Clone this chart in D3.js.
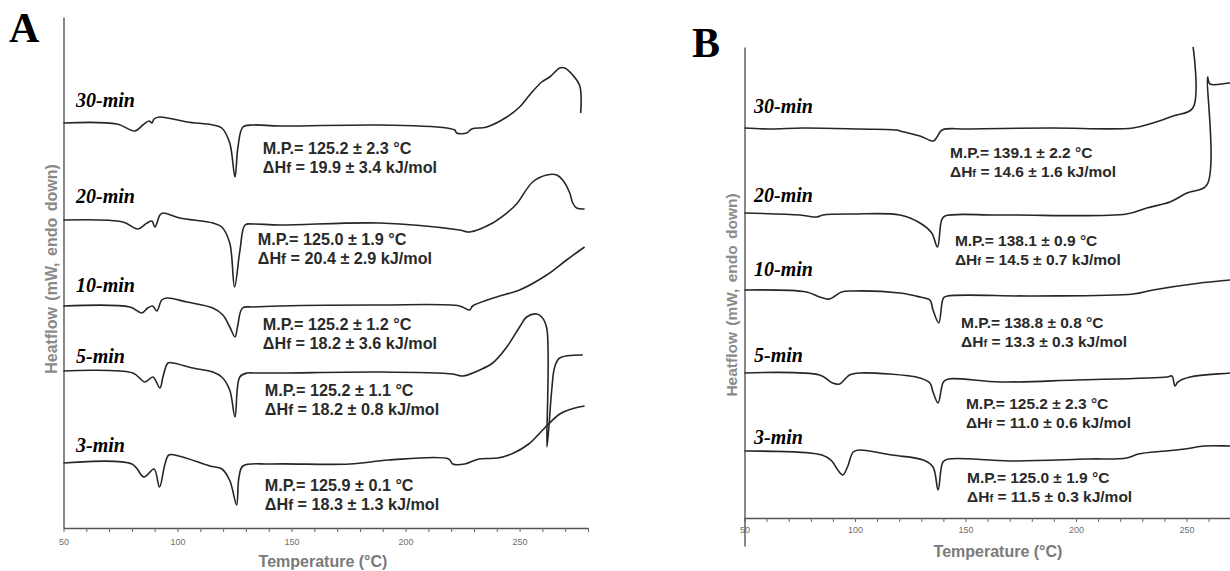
<!DOCTYPE html>
<html>
<head>
<meta charset="utf-8">
<script src="https://cdn.jsdelivr.net/npm/d3@7"></script>
<style>
  body { margin: 0; background: #fff; }
  svg { display: block; }
</style>
</head>
<body>
<svg id="chart" width="1230" height="571"></svg>
<script>
// ---- Data ---------------------------------------------------------------
// DSC thermograms: temperature (°C) and heat flow relative to each trace's
// own baseline (mW, endo down). Traces are stacked with a vertical offset.
const samples = ["30-min", "20-min", "10-min", "5-min", "3-min"];
const xTickLabels = [50, 100, 150, 200, 250];

// Panel A
const tA30 = [50, 73.4, 81.3, 84.8, 87.5, 88.8, 89.7, 92.3, 104.1, 115.5, 119.4, 122.9, 125.2, 126.5, 128.7, 133.1, 144.9, 188.7, 218.1, 221.6, 222.4, 226.8, 229, 235.6, 244.4, 250, 254.4, 259.7, 263.2, 267.6, 269.8, 273.3, 276.4, 276.8];
const hA30 = [0, -0.1, -0.8, -0.2, 0.2, 0, 0.4, 0.6, 0.1, -0.2, -0.5, -2.0, -5.4, -2.4, -0.4, -0.2, -0.3, -0.2, -0.5, -0.7, -1.0, -1.0, -0.6, -0.4, 0.6, 1.6, 2.8, 4.1, 4.6, 5.5, 5.5, 4.8, 3.7, 1.0];
const tA20 = [50, 76.1, 82.6, 86.6, 88.8, 90.1, 92.3, 93.6, 101, 115.5, 119.4, 122.9, 125.0, 127.4, 129.6, 133.1, 144.9, 188.7, 223.7, 228.1, 238.2, 244.4, 248.7, 255.7, 261.9, 266.3, 268.9, 272, 273.3, 275.0, 278.5];
const hA20 = [0, -0.2, -0.9, -0.3, -0.1, -0.7, 0.5, 0.7, 0.2, -0.3, -0.7, -2.3, -6.7, -3.0, -0.5, -0.4, -0.5, -0.3, -1.0, -1.2, -0.3, 0.7, 1.6, 3.8, 4.5, 4.5, 4.0, 2.7, 1.7, 1.2, 1.1];
const tA10 = [50, 79.1, 84.3, 86.9, 89.1, 90.9, 93.1, 95.3, 104.1, 115.5, 119.9, 122.9, 125.2, 126.3, 128.5, 133.1, 144.9, 188.7, 223.7, 228.1, 229.4, 239.9, 250, 261.9, 270.6, 278.5];
const hA10 = [0, -0.1, -0.7, -0.2, 0, -0.5, 0.6, 0.8, 0.4, -0.2, -0.9, -2.1, -3.1, -2.1, -0.2, -0.1, 0, 0.1, 0, -0.4, 0, 0.9, 1.6, 3.1, 4.6, 5.9];
const tA5 = [50, 80.4, 85.7, 89.2, 92.3, 93.6, 95.8, 98, 106.8, 115.5, 119.4, 122.9, 125.2, 127.3, 130.5, 133.1, 144.9, 188.7, 220.7, 225.1, 232.5, 238.2, 244.4, 250, 253.1, 257.5, 259.7, 261.9, 262.0, 264.1, 265.4, 267.6, 277.7];
const hA5 = [0, -0.2, -1.1, -0.6, -1.7, -0.6, 0.8, 0.8, 0.3, -0.1, -0.6, -1.9, -4.6, -0.6, -0.2, -0.2, -0.2, -0.1, -0.3, -0.5, 0.1, 0.8, 2.4, 4.4, 5.4, 5.7, 5.4, 4.3, -7.6, -1.9, 0.4, 1.3, 1.6];
const tA3 = [50, 80, 85.3, 89.7, 92.1, 94.5, 96.2, 100.6, 114.2, 119.5, 123, 125.9, 126.9, 128.7, 141.4, 175.6, 192.6, 218.9, 220.7, 226, 232.1, 240.4, 247.4, 254, 261, 267.6, 272.8, 278.5];
const hA3 = [0, -0.1, -1.4, -0.6, -2.4, -0.1, 0.8, 0.7, -0.3, -0.6, -1.8, -4.2, -1.5, -0.3, -0.1, -0.1, 0.3, 0.4, -0.1, -0.1, 0.4, 0.5, 1.0, 1.9, 3.5, 4.9, 5.4, 5.7];
const offsetA = [40.5, 30.8, 22.2, 15.7, 6.5];
const mpA = [125.2, 125.0, 125.2, 125.2, 125.9];
const mpErrA = [2.3, 1.9, 1.2, 1.1, 0.1];
const dhA = [19.9, 20.4, 18.2, 18.2, 18.3];
const dhErrA = [3.4, 2.9, 3.6, 0.8, 1.3];

// Panel B
const tB30 = [50, 61.5, 76.5, 102.3, 119.0, 120.4, 129.4, 135.5, 137.1, 139.4, 150.7, 188.2, 225.8, 234.8, 243.9, 252.9, 253.0];
const hB30 = [0, -0.1, 0, -0.1, -0.2, -0.3, -0.8, -1.3, -0.9, -0.2, -0.1, 0, 0, 0.5, 1.2, 2.0, 8.1];
const tB20 = [50, 75.1, 82.8, 85.5, 99.1, 120.3, 129.4, 134.7, 137.3, 139.2, 140.7, 165.6, 222.9, 232, 242.5, 250.2, 259.2, 259.5, 260.6, 269.7, 280];
const hB20 = [0.1, -0.1, -0.3, -0.1, 0, -0.1, -0.9, -1.9, -3.3, -0.6, -0.2, -0.1, 0, 0.6, 1.2, 2.1, 2.9, 13.7, 13.0, 13.1, 13.1];
const tB10 = [50, 78, 84, 88.5, 93.9, 98.9, 120.3, 129.4, 133.9, 135.3, 137.9, 140, 141.8, 180.7, 225.9, 234.9, 256.2, 269.7, 280];
const hB10 = [0.1, -0.1, -0.6, -0.8, -0.1, 0, -0.2, -0.6, -0.9, -1.9, -3.2, -0.7, -0.5, -0.5, -0.3, 0.1, 0.8, 1.1, 1.4];
const tB5 = [50, 84, 89.8, 93, 97.5, 102, 129.4, 133.9, 135.3, 137.6, 140, 142.2, 165.6, 200, 241.2, 243.4, 244.8, 246.1, 251.6, 269.7, 280];
const hB5 = [0, -0.2, -1.0, -1.1, -0.2, 0, -0.5, -1.0, -1.9, -3.0, -0.9, -0.6, -0.9, -0.7, -0.4, -0.3, -1.3, -0.9, -0.4, 0, 0.2];
const tB3 = [50, 85.1, 89.5, 92.2, 94.5, 96.6, 99.2, 101.9, 116.8, 130.9, 135.3, 137.6, 139.8, 142.4, 170, 205.3, 222.9, 228.2, 240.5, 249.3, 258.2, 270.3, 280];
const hB3 = [0, -0.4, -1.0, -1.9, -2.4, -1.6, -0.1, 0.1, -0.4, -0.9, -1.6, -3.9, -1.1, -0.8, -1.0, -0.8, -0.7, -0.3, 0, 0.2, 0.5, 0.5, 0.5];
const offsetB = [39.0, 30.4, 22.7, 14.5, 6.7];
const mpB = [139.1, 138.1, 138.8, 125.2, 125.0];
const mpErrB = [2.2, 0.9, 0.8, 2.3, 1.9];
const dhB = [14.6, 14.5, 13.3, 11.0, 11.5];
const dhErrB = [1.6, 0.7, 0.3, 0.6, 0.3];

// ---- Drawing -----------------------------------------------------------
const svg = d3.select("#chart");
const zip = (t, h) => t.map((d, i) => [d, h[i]]);

const panels = [
  {
    letter: "A", letterPos: [9, 42],
    x: d3.scaleLinear().domain([50, 280]).range([63.5, 588]),
    y: d3.scaleLinear().domain([0, 51.1]).range([528, 17]),
    yAxisBottom: 528,
    curves: [zip(tA30, hA30), zip(tA20, hA20), zip(tA10, hA10), zip(tA5, hA5), zip(tA3, hA3)],
    offsets: offsetA, mp: mpA, mpErr: mpErrA, dh: dhA, dhErr: dhErrA,
    nameT: 55.5, nameDy: [-16, -17, -14, -8, -11],
    noteT: [137.4, 135.2, 137.4, 138.3, 138.3], noteDy: [31, 25, 24, 25, 28],
    subScale: 0.9, noteSize: 16.2,
    yTitle: [53, 269], xTitle: [323, 567], tickLabelY: 545, titleSize: 16
  },
  {
    letter: "B", letterPos: [692, 57],
    x: d3.scaleLinear().domain([50, 280]).range([744.5, 1252.8]),
    y: d3.scaleLinear().domain([0, 47.1]).range([518, 47]),
    yAxisBottom: 546,
    curves: [zip(tB30, hB30), zip(tB20, hB20), zip(tB10, hB10), zip(tB5, hB5), zip(tB3, hB3)],
    offsets: offsetB, mp: mpB, mpErr: mpErrB, dh: dhB, dhErr: dhErrB,
    nameT: 54.3, nameDy: [-15, -12, -15, -11, -7],
    noteT: [143, 145.2, 148, 150.2, 150.7], noteDy: [30, 32, 37, 36, 32],
    subScale: 0.72, noteSize: 15.5,
    yTitle: [733, 295], xTitle: [998, 557], tickLabelY: 533, titleSize: 15.5
  }
];

panels.forEach(p => {
  const g = svg.append("g");
  const [x0] = p.x.range();
  const yBase = p.y.range()[0];

  // x axis with ticks every 10 °C, labelled every 50 °C
  const xAxis = d3.axisBottom(p.x)
    .tickValues(d3.range(50, 281, 10))
    .tickSize(4).tickSizeOuter(0)
    .tickFormat(d => xTickLabels.includes(d) ? d : "");
  const ax = g.append("g").attr("transform", `translate(0,${yBase})`).call(xAxis);
  ax.select(".domain").attr("stroke", "#555").attr("stroke-width", 1.4);
  ax.selectAll(".tick line").attr("stroke", "#666").attr("stroke-width", 1);
  ax.selectAll(".tick text")
    .attr("y", null).attr("dy", null)
    .attr("transform", `translate(0,${p.tickLabelY - yBase})`)
    .attr("fill", "#6f6f6f")
    .style("font-family", "'Liberation Sans', Arial, sans-serif")
    .style("font-size", "9px");

  // y axis: a plain line without ticks
  const yAxisScale = p.y.copy().range([p.yAxisBottom, p.y.range()[1]]);
  const ay = g.append("g").attr("transform", `translate(${x0},0)`)
    .call(d3.axisLeft(yAxisScale).tickValues([]).tickSizeOuter(0));
  ay.select(".domain").attr("stroke", "#555").attr("stroke-width", 1.4);

  // axis titles
  g.append("text")
    .attr("transform", `translate(${p.yTitle[0]},${p.yTitle[1]}) rotate(-90)`)
    .attr("text-anchor", "middle").attr("dominant-baseline", "middle")
    .attr("fill", "#8a8a8a")
    .style("font-family", "'Liberation Sans', Arial, sans-serif")
    .style("font-weight", "bold").style("font-size", p.titleSize + "px")
    .attr("word-spacing", "2px")
    .text("Heatflow (mW, endo down)");
  g.append("text")
    .attr("x", p.xTitle[0]).attr("y", p.xTitle[1])
    .attr("text-anchor", "middle")
    .attr("fill", "#7a7a7a")
    .style("font-family", "'Liberation Sans', Arial, sans-serif")
    .style("font-weight", "bold").style("font-size", "16px")
    .text("Temperature (°C)");

  // panel letter
  g.append("text")
    .attr("x", p.letterPos[0]).attr("y", p.letterPos[1])
    .style("font-family", "'Liberation Serif', 'Times New Roman', serif")
    .style("font-weight", "bold").style("font-size", "42px")
    .text(p.letter);

  // traces
  p.curves.forEach((c, i) => {
    const off = p.offsets[i];
    const line = d3.line()
      .x(d => p.x(d[0]))
      .y(d => p.y(d[1] + off))
      .curve(d3.curveCatmullRom.alpha(0.5));
    g.append("path")
      .datum(c)
      .attr("d", line)
      .attr("fill", "none")
      .attr("stroke", "#262626")
      .attr("stroke-width", 1.6)
      .attr("stroke-linejoin", "round");

    const base = p.y(off);
    // sample name
    g.append("text")
      .attr("x", p.x(p.nameT)).attr("y", base + p.nameDy[i])
      .style("font-family", "'Liberation Serif', 'Times New Roman', serif")
      .style("font-weight", "bold").style("font-style", "italic")
      .style("font-size", "20px")
      .text(samples[i]);

    // melting point and enthalpy annotation
    const note = g.append("g")
      .attr("transform", `translate(${p.x(p.noteT[i])},${base + p.noteDy[i]})`)
      .style("font-family", "'Liberation Sans', Arial, sans-serif")
      .style("font-weight", "bold").style("font-size", p.noteSize + "px")
      .attr("fill", "#2a2a2a");
    note.append("text")
      .text(`M.P.= ${p.mp[i].toFixed(1)} ± ${p.mpErr[i].toFixed(1)} °C`);
    const t2 = note.append("text").attr("y", 19);
    t2.append("tspan").text("ΔH");
    t2.append("tspan").style("font-size", (p.noteSize * p.subScale) + "px").text("f");
    t2.append("tspan").text(` = ${p.dh[i].toFixed(1)} ± ${p.dhErr[i].toFixed(1)} kJ/mol`);
  });
});
</script>
</body>
</html>
